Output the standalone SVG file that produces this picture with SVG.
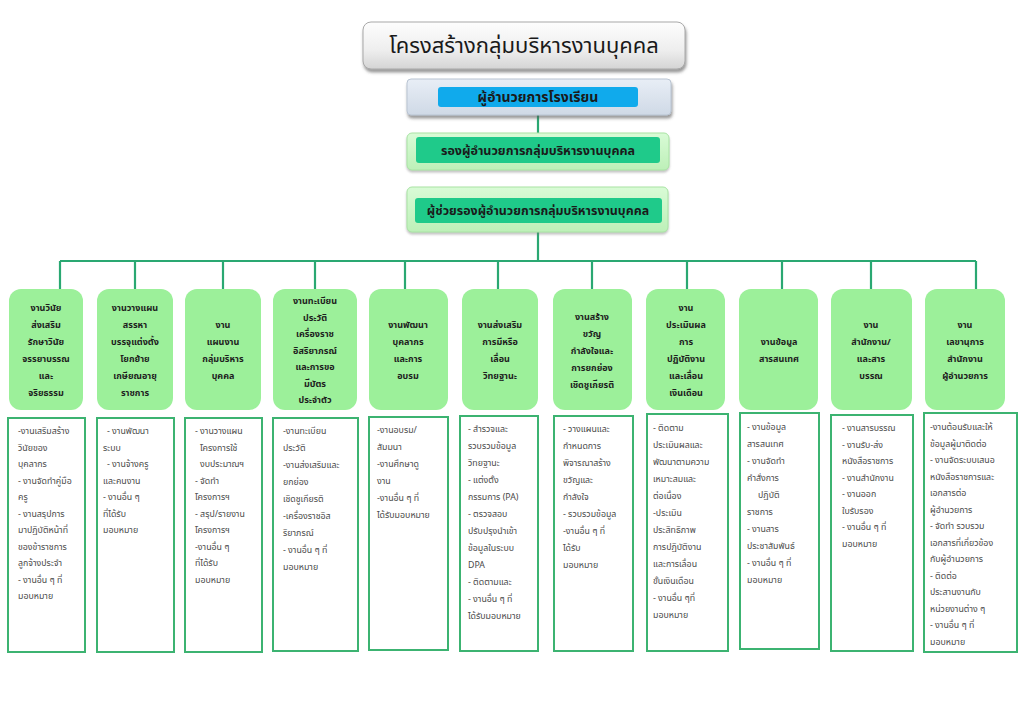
<svg xmlns="http://www.w3.org/2000/svg" width="1024" height="709" viewBox="0 0 1024 709">
<defs>
<linearGradient id="gTitle" x1="0" y1="0" x2="0" y2="1">
<stop offset="0" stop-color="#fdfdfd"/><stop offset="0.6" stop-color="#eeeeee"/><stop offset="1" stop-color="#d4d4d4"/>
</linearGradient>
<linearGradient id="gDir" x1="0" y1="0" x2="0" y2="1">
<stop offset="0" stop-color="#e8eef6"/><stop offset="1" stop-color="#cfd9e6"/>
</linearGradient>
<linearGradient id="gDep" x1="0" y1="0" x2="0" y2="1">
<stop offset="0" stop-color="#d9fbd6"/><stop offset="1" stop-color="#bdf0b8"/>
</linearGradient>
<filter id="sh" x="-10%" y="-20%" width="120%" height="160%">
<feDropShadow dx="1" dy="3" stdDeviation="1.5" flood-color="#555" flood-opacity="0.6"/>
</filter>
<filter id="sh2" x="-10%" y="-20%" width="120%" height="160%">
<feDropShadow dx="0" dy="2" stdDeviation="1.2" flood-color="#777" flood-opacity="0.45"/>
</filter>
</defs>
<style>
text{font-family:"Noto Sans Thai","Noto Sans","DejaVu Sans",sans-serif;}
.title{font-size:22px;fill:#1a1a1a;text-anchor:middle;}
.top{font-weight:bold;fill:#1a1a1a;text-anchor:middle;}
.hdr rect{fill:#9cf09a;}
.hdr text{font-size:9px;font-weight:bold;fill:#1e1e1e;text-anchor:middle;}
.det rect{fill:#ffffff;stroke:#3cb371;stroke-width:2;}
.det text{font-size:8.8px;fill:#4a4a4a;}
.conn{stroke:#2aa872;stroke-width:2.2;fill:none;}
</style>
<rect width="1024" height="709" fill="#ffffff"/>

<g id="title">
<rect x="363" y="22" width="322" height="47" rx="8" fill="url(#gTitle)" stroke="#a8a8a8" stroke-width="1" filter="url(#sh)"/>
<text class="title" x="524" y="53">โครงสร้างกลุ่มบริหารงานบุคคล</text>
</g>

<g id="connectors">
<path class="conn" d="M538 115V133M538 232V261M60 261H976M60 261V289M135 261V289M223 261V289M315 261V289M405 261V289M498 261V289M592 261V289M687 261V289M782 261V289M871 261V289M976 261V289"/>
</g>

<g id="director">
<rect x="407" y="79" width="264" height="36" rx="4" fill="url(#gDir)" stroke="#b9c4d2" stroke-width="1" filter="url(#sh)"/>
<rect x="438" y="87" width="200" height="20" rx="3" fill="#10aaec"/>
<text class="top" x="538" y="102" style="font-size:14px">ผู้อำนวยการโรงเรียน</text>
</g>

<g id="deputy">
<rect x="407" y="133" width="262" height="37" rx="5" fill="url(#gDep)" stroke="#a9e3a4" stroke-width="1" filter="url(#sh2)"/>
<rect x="416" y="137" width="244" height="26" rx="3" fill="#1fca8a"/>
<text class="top" x="538" y="155" style="font-size:12.5px">รองผู้อำนวยการกลุ่มบริหารงานบุคคล</text>
</g>

<g id="assistant">
<rect x="407" y="187" width="261" height="45" rx="5" fill="url(#gDep)" stroke="#a9e3a4" stroke-width="1" filter="url(#sh2)"/>
<rect x="415" y="198" width="247" height="25" rx="3" fill="#1fca8a"/>
<text class="top" x="538" y="215" style="font-size:12.4px">ผู้ช่วยรองผู้อำนวยการกลุ่มบริหารงานบุคคล</text>
</g>

<g id="h1" class="hdr"><rect x="9" y="289" width="74" height="121" rx="12"/>
<text x="46" y="311">งานวินัย</text><text x="46" y="328">ส่งเสริม</text><text x="46" y="345">รักษาวินัย</text><text x="46" y="362">จรรยาบรรณ</text><text x="46" y="379">และ</text><text x="46" y="396">จริยธรรม</text></g>

<g id="h2" class="hdr"><rect x="97" y="289" width="76" height="121" rx="12"/>
<text x="135" y="311">งานวางแผน</text><text x="135" y="328">สรรหา</text><text x="135" y="345">บรรจุแต่งตั้ง</text><text x="135" y="362">โยกย้าย</text><text x="135" y="379">เกษียณอายุ</text><text x="135" y="396">ราชการ</text></g>

<g id="h3" class="hdr"><rect x="185" y="289" width="76" height="121" rx="12"/>
<text x="223" y="328">งาน</text><text x="223" y="345">แผนงาน</text><text x="223" y="362">กลุ่มบริหาร</text><text x="223" y="379">บุคคล</text></g>

<g id="h4" class="hdr"><rect x="273" y="289" width="84" height="121" rx="12"/>
<text x="315" y="304">งานทะเบียน</text><text x="315" y="320.5">ประวัติ</text><text x="315" y="337">เครื่องราช</text><text x="315" y="353.5">อิสริยาภรณ์</text><text x="315" y="370">และการขอ</text><text x="315" y="386.5">มีบัตร</text><text x="315" y="403">ประจำตัว</text></g>

<g id="h5" class="hdr"><rect x="369" y="289" width="79" height="121" rx="12"/>
<text x="408" y="328">งานพัฒนา</text><text x="408" y="345">บุคลากร</text><text x="408" y="362">และการ</text><text x="408" y="379">อบรม</text></g>

<g id="h6" class="hdr"><rect x="462" y="289" width="76" height="121" rx="12"/>
<text x="500" y="328">งานส่งเสริม</text><text x="500" y="345">การมีหรือ</text><text x="500" y="362">เลื่อน</text><text x="500" y="379">วิทยฐานะ</text></g>

<g id="h7" class="hdr"><rect x="553" y="289" width="79" height="121" rx="12"/>
<text x="592" y="319.5">งานสร้าง</text><text x="592" y="336.5">ขวัญ</text><text x="592" y="353.5">กำลังใจและ</text><text x="592" y="370.5">การยกย่อง</text><text x="592" y="387.5">เชิดชูเกียรติ</text></g>

<g id="h8" class="hdr"><rect x="646" y="289" width="79" height="121" rx="12"/>
<text x="686" y="311">งาน</text><text x="686" y="328">ประเมินผล</text><text x="686" y="345">การ</text><text x="686" y="362">ปฏิบัติงาน</text><text x="686" y="379">และเลื่อน</text><text x="686" y="396">เงินเดือน</text></g>

<g id="h9" class="hdr"><rect x="739" y="289" width="79" height="121" rx="12"/>
<text x="779" y="345">งานข้อมูล</text><text x="779" y="362">สารสนเทศ</text></g>

<g id="h10" class="hdr"><rect x="831" y="289" width="81" height="121" rx="12"/>
<text x="871" y="328">งาน</text><text x="871" y="345">สำนักงาน/</text><text x="871" y="362">และสาร</text><text x="871" y="379">บรรณ</text></g>

<g id="h11" class="hdr"><rect x="925" y="289" width="80" height="121" rx="12"/>
<text x="965" y="328">งาน</text><text x="965" y="345">เลขานุการ</text><text x="965" y="362">สำนักงาน</text><text x="965" y="379">ผู้อำนวยการ</text></g>

<g id="d1" class="det"><rect x="8" y="418" width="77" height="234"/>
<text x="18" y="434">-งานเสริมสร้าง</text><text x="18" y="450.5">วินัยของ</text><text x="18" y="467">บุคลากร</text><text x="18" y="483.5">- งานจัดทำคู่มือ</text><text x="18" y="500">ครู</text><text x="18" y="516.5">- งานสรุปการ</text><text x="18" y="533">มาปฏิบัติหน้าที่</text><text x="18" y="549.5">ของข้าราชการ</text><text x="18" y="566">ลูกจ้างประจำ</text><text x="18" y="582.5">- งานอื่น ๆ ที่</text><text x="18" y="599">มอบหมาย</text></g>

<g id="d2" class="det"><rect x="97" y="418" width="77" height="234"/>
<text x="107" y="434">- งานพัฒนา</text><text x="103" y="450.5">ระบบ</text><text x="107" y="467">- งานจ้างครู</text><text x="103" y="483.5">และคนงาน</text><text x="103" y="500">- งานอื่น ๆ</text><text x="103" y="516.5">ที่ได้รับ</text><text x="103" y="533">มอบหมาย</text></g>

<g id="d3" class="det"><rect x="185" y="418" width="77" height="234"/>
<text x="195" y="434">- งานวางแผน</text><text x="200" y="450.5">โครงการใช้</text><text x="200" y="467">งบประมาณฯ</text><text x="195" y="483.5">- จัดทำ</text><text x="195" y="500">โครงการฯ</text><text x="195" y="516.5">- สรุป/รายงาน</text><text x="195" y="533">โครงการฯ</text><text x="195" y="549.5">-งานอื่น ๆ</text><text x="195" y="566">ที่ได้รับ</text><text x="195" y="582.5">มอบหมาย</text></g>

<g id="d4" class="det"><rect x="273" y="418" width="85" height="233"/>
<text x="283" y="434">-งานทะเบียน</text><text x="283" y="451">ประวัติ</text><text x="283" y="468">-งานส่งเสริมและ</text><text x="283" y="485">ยกย่อง</text><text x="283" y="502">เชิดชูเกียรติ</text><text x="283" y="519">-เครื่องราชอิส</text><text x="283" y="536">ริยาภรณ์</text><text x="283" y="553">- งานอื่น ๆ ที่</text><text x="283" y="570">มอบหมาย</text></g>

<g id="d5" class="det"><rect x="369" y="417" width="79" height="233"/>
<text x="377" y="433">-งานอบรม/</text><text x="377" y="450">สัมมนา</text><text x="377" y="467">-งานศึกษาดู</text><text x="377" y="484">งาน</text><text x="377" y="501">-งานอื่น ๆ ที่</text><text x="377" y="518">ได้รับมอบหมาย</text></g>

<g id="d6" class="det"><rect x="460" y="416" width="78" height="235"/>
<text x="468" y="432">- สำรวจและ</text><text x="468" y="449">รวบรวมข้อมูล</text><text x="468" y="466">วิทยฐานะ</text><text x="468" y="483">- แต่งตั้ง</text><text x="468" y="500">กรรมการ (PA)</text><text x="468" y="517">- ตรวจสอบ</text><text x="468" y="534">ปรับปรุงนำเข้า</text><text x="468" y="551">ข้อมูลในระบบ</text><text x="468" y="568">DPA</text><text x="468" y="585">- ติดตามและ</text><text x="468" y="602">- งานอื่น ๆ ที่</text><text x="468" y="619">ได้รับมอบหมาย</text></g>

<g id="d7" class="det"><rect x="554" y="416" width="79" height="235"/>
<text x="563" y="432">- วางแผนและ</text><text x="563" y="449">กำหนดการ</text><text x="563" y="466">พิจารณาสร้าง</text><text x="563" y="483">ขวัญและ</text><text x="563" y="500">กำลังใจ</text><text x="563" y="517">- รวบรวมข้อมูล</text><text x="563" y="534">-งานอื่น ๆ ที่</text><text x="563" y="551">ได้รับ</text><text x="563" y="568">มอบหมาย</text></g>

<g id="d8" class="det"><rect x="647" y="414" width="81" height="237"/>
<text x="653" y="431">- ติดตาม</text><text x="653" y="448">ประเมินผลและ</text><text x="653" y="465">พัฒนาตามความ</text><text x="653" y="482">เหมาะสมและ</text><text x="653" y="499">ต่อเนื่อง</text><text x="653" y="516">-ประเมิน</text><text x="653" y="533">ประสิทธิภาพ</text><text x="653" y="550">การปฏิบัติงาน</text><text x="653" y="567">และการเลื่อน</text><text x="653" y="584">ขั้นเงินเดือน</text><text x="653" y="601">- งานอื่น ๆที่</text><text x="653" y="618">มอบหมาย</text></g>

<g id="d9" class="det"><rect x="740" y="413" width="79" height="236"/>
<text x="747" y="430">-  งานข้อมูล</text><text x="747" y="447">สารสนเทศ</text><text x="747" y="464">-  งานจัดทำ</text><text x="747" y="481">คำสั่งการ</text><text x="758" y="498">ปฏิบัติ</text><text x="747" y="515">ราชการ</text><text x="747" y="532">-  งานสาร</text><text x="747" y="549">ประชาสัมพันธ์</text><text x="747" y="566">-  งานอื่น ๆ ที่</text><text x="747" y="583">มอบหมาย</text></g>

<g id="d10" class="det"><rect x="831" y="415" width="82" height="236"/>
<text x="842" y="431">- งานสารบรรณ</text><text x="842" y="447.5">- งานรับ-ส่ง</text><text x="842" y="464">หนังสือราชการ</text><text x="842" y="480.5">- งานสำนักงาน</text><text x="842" y="497">- งานออก</text><text x="842" y="513.5">ใบรับรอง</text><text x="842" y="530">- งานอื่น ๆ ที่</text><text x="842" y="546.5">มอบหมาย</text></g>

<g id="d11" class="det"><rect x="924" y="413" width="93" height="239"/>
<text x="930" y="430">-งานต้อนรับและให้</text><text x="930" y="446.5">ข้อมูลผู้มาติดต่อ</text><text x="930" y="463">- งานจัดระบบเสนอ</text><text x="930" y="479.5">หนังสือราชการและ</text><text x="930" y="496">เอกสารต่อ</text><text x="930" y="512.5">ผู้อำนวยการ</text><text x="930" y="529">- จัดทำ รวบรวม</text><text x="930" y="545.5">เอกสารที่เกี่ยวข้อง</text><text x="930" y="562">กับผู้อำนวยการ</text><text x="930" y="578.5">- ติดต่อ</text><text x="930" y="595">ประสานงานกับ</text><text x="930" y="611.5">หน่วยงานต่าง ๆ</text><text x="930" y="628">- งานอื่น ๆ ที่</text><text x="930" y="644.5">มอบหมาย</text></g>
</svg>
